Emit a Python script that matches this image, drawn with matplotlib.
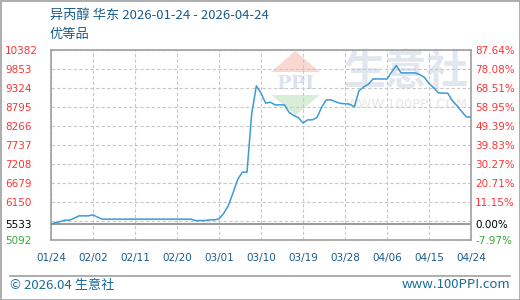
import matplotlib
matplotlib.use('Agg')
import matplotlib.pyplot as plt
from matplotlib.patches import Polygon, Rectangle
from matplotlib.lines import Line2D
import pandas as pd

plt.rcParams['font.family'] = ['Noto Sans CJK SC', 'DejaVu Sans']

# daily price, 2026-01-24 .. 2026-04-24 (yuan/t)
dates = pd.date_range('2026-01-24', '2026-04-24', freq='D')
prices = [5533, 5578, 5605, 5644, 5644, 5700, 5764, 5764, 5764, 5792,
          5728, 5672, 5672, 5672, 5672, 5672, 5672, 5672, 5672, 5672,
          5672, 5672, 5672, 5672, 5672, 5672, 5672, 5672, 5672, 5672,
          5672, 5633, 5633, 5633, 5653, 5653, 5680, 5830, 6050, 6400,
          6780, 6980, 6980, 8600, 9383, 9180, 8900, 8930, 8854, 8854,
          8854, 8650, 8560, 8501, 8350, 8437, 8437, 8500, 8790, 8994,
          8994, 8940, 8895, 8885, 8874, 8800, 9250, 9350, 9430, 9575,
          9575, 9575, 9575, 9770, 9949, 9745, 9745, 9745, 9745, 9700,
          9620, 9450, 9330, 9190, 9180, 9180, 8970, 8830, 8670, 8520,
          8515]
base_price = 5533

# gridlines every 529 from the bottom; 5621 carries no label
grid_levels = [5092, 5621, 6150, 6679, 7208, 7737, 8266, 8795, 9324, 9853, 10382]
ytick_vals = [5092, 5533, 5621, 6150, 6679, 7208, 7737, 8266, 8795, 9324, 9853, 10382]
ytick_left = ['5092', '5533', '', '6150', '6679', '7208', '7737', '8266', '8795',
              '9324', '9853', '10382']
ytick_right = ['-7.97%', '0.00%', '', '11.15%', '20.71%', '30.27%', '39.83%',
               '49.39%', '58.95%', '68.51%', '78.08%', '87.64%']
xtick_dates = ['2026-01-24', '2026-02-02', '2026-02-11', '2026-02-20', '2026-03-01',
               '2026-03-10', '2026-03-19', '2026-03-28', '2026-04-06', '2026-04-15',
               '2026-04-24']
xtick_labels = ['01/24', '02/02', '02/11', '02/20', '03/01', '03/10',
                '03/19', '03/28', '04/06', '04/15', '04/24']

title = '异丙醇 华东 2026-01-24 - 2026-04-24'
subtitle = '优等品'

RED = '#ff3333'
GREEN = '#33aa33'
BLUE_TXT = '#1a5c8c'
FRAME = '#a0a0a0'

fig = plt.figure(figsize=(5.2, 3), dpi=100)
W, H = 520.0, 300.0
ax = fig.add_axes([51 / W, 60 / H, 420 / W, 190 / H])

ax.plot(dates, prices, color='#3d9ad6', lw=1.1, zorder=3)
ax.axhline(base_price, color='#999999', lw=1.4, zorder=2)
ax.set_xlim(dates[0], dates[-1])
ax.set_ylim(grid_levels[0], grid_levels[-1])

ycolors = []
for v in ytick_vals:
    if v > base_price:
        ycolors.append(RED)
    elif v == base_price:
        ycolors.append('black')
    else:
        ycolors.append(GREEN)

ax.set_yticks(ytick_vals)
ax.set_yticklabels(ytick_left, family='DejaVu Sans')
ax.tick_params(axis='y', length=0, pad=33, labelsize=7.5)
for lab, c in zip(ax.get_yticklabels(), ycolors):
    lab.set_color(c)
    lab.set_horizontalalignment('left')

ax.set_xticks(pd.to_datetime(xtick_dates))
ax.set_xticklabels(xtick_labels, family='DejaVu Sans')
ax.tick_params(axis='x', length=0, pad=9, labelsize=7.5, labelcolor=BLUE_TXT)

ax.set_axisbelow(True)
ax.grid(True, linestyle=(0, (3, 2)), color='#c8c8c8', lw=0.8)
for s in ax.spines.values():
    s.set_color(FRAME)
    s.set_linewidth(1.2)

tw = ax.twinx()
tw.set_ylim(grid_levels[0], grid_levels[-1])
tw.set_yticks(ytick_vals)
tw.set_yticklabels(ytick_right, family='DejaVu Sans')
tw.tick_params(axis='y', length=0, pad=3, labelsize=7.5)
for lab, c in zip(tw.get_yticklabels(), ycolors):
    lab.set_color(c)
for s in tw.spines.values():
    s.set_visible(False)

# watermark
ft = fig.transFigure
def fp(x, y):
    return (x / W, 1 - y / H)
ax.add_patch(Polygon([fp(295, 51), fp(271, 72), fp(320, 72)], closed=True,
                     transform=ft, color='#f8d8d0', zorder=0.2, lw=0))
ax.add_patch(Polygon([fp(271, 95), fp(320, 95), fp(295.5, 115)], closed=True,
                     transform=ft, color='#d8eed8', zorder=0.2, lw=0))
ax.text(295.5 / W, 1 - 84 / H, 'PPI', transform=ft, ha='center', va='center',
        fontsize=14, family='DejaVu Serif', weight='bold', color='#dde3ee', zorder=0.3)
ax.text(406 / W, 1 - 72 / H, '生意社', transform=ft, ha='center', va='center',
        fontsize=30, weight='bold', color='#e2e6ef', zorder=0.3)
ax.text(407 / W, 1 - 105 / H, 'WWW.100PPI.COM', transform=ft, ha='center', va='center',
        fontsize=9.5, family='DejaVu Sans', color='#e6e6e6', zorder=0.3)

# texts
fig.text(50 / W, 1 - 15 / H, title, fontsize=9.5, color=BLUE_TXT, va='center')
fig.text(50 / W, 1 - 34.5 / H, subtitle, fontsize=9.5, color=BLUE_TXT, va='center')
fig.text(10 / W, 1 - 285 / H, '© 2026.04 生意社', fontsize=9.5, color='#1a6a9a', va='center')
fig.text(510 / W, 1 - 285 / H, 'www.100PPI.com', fontsize=9.5, color='#1a6a9a',
         va='center', ha='right')

fig.lines.append(Line2D([10 / W, 510 / W], [1 - 275.5 / H, 1 - 275.5 / H],
                        transform=ft, color='#a0a0a0', lw=1.2))
fig.patches.append(Rectangle((0.5 / W, 0.5 / H), 1 - 1 / W, 1 - 1 / H, transform=ft,
                             fill=False, edgecolor='#a0a0a0', lw=1.2))

fig.savefig('out.png', dpi=100)
